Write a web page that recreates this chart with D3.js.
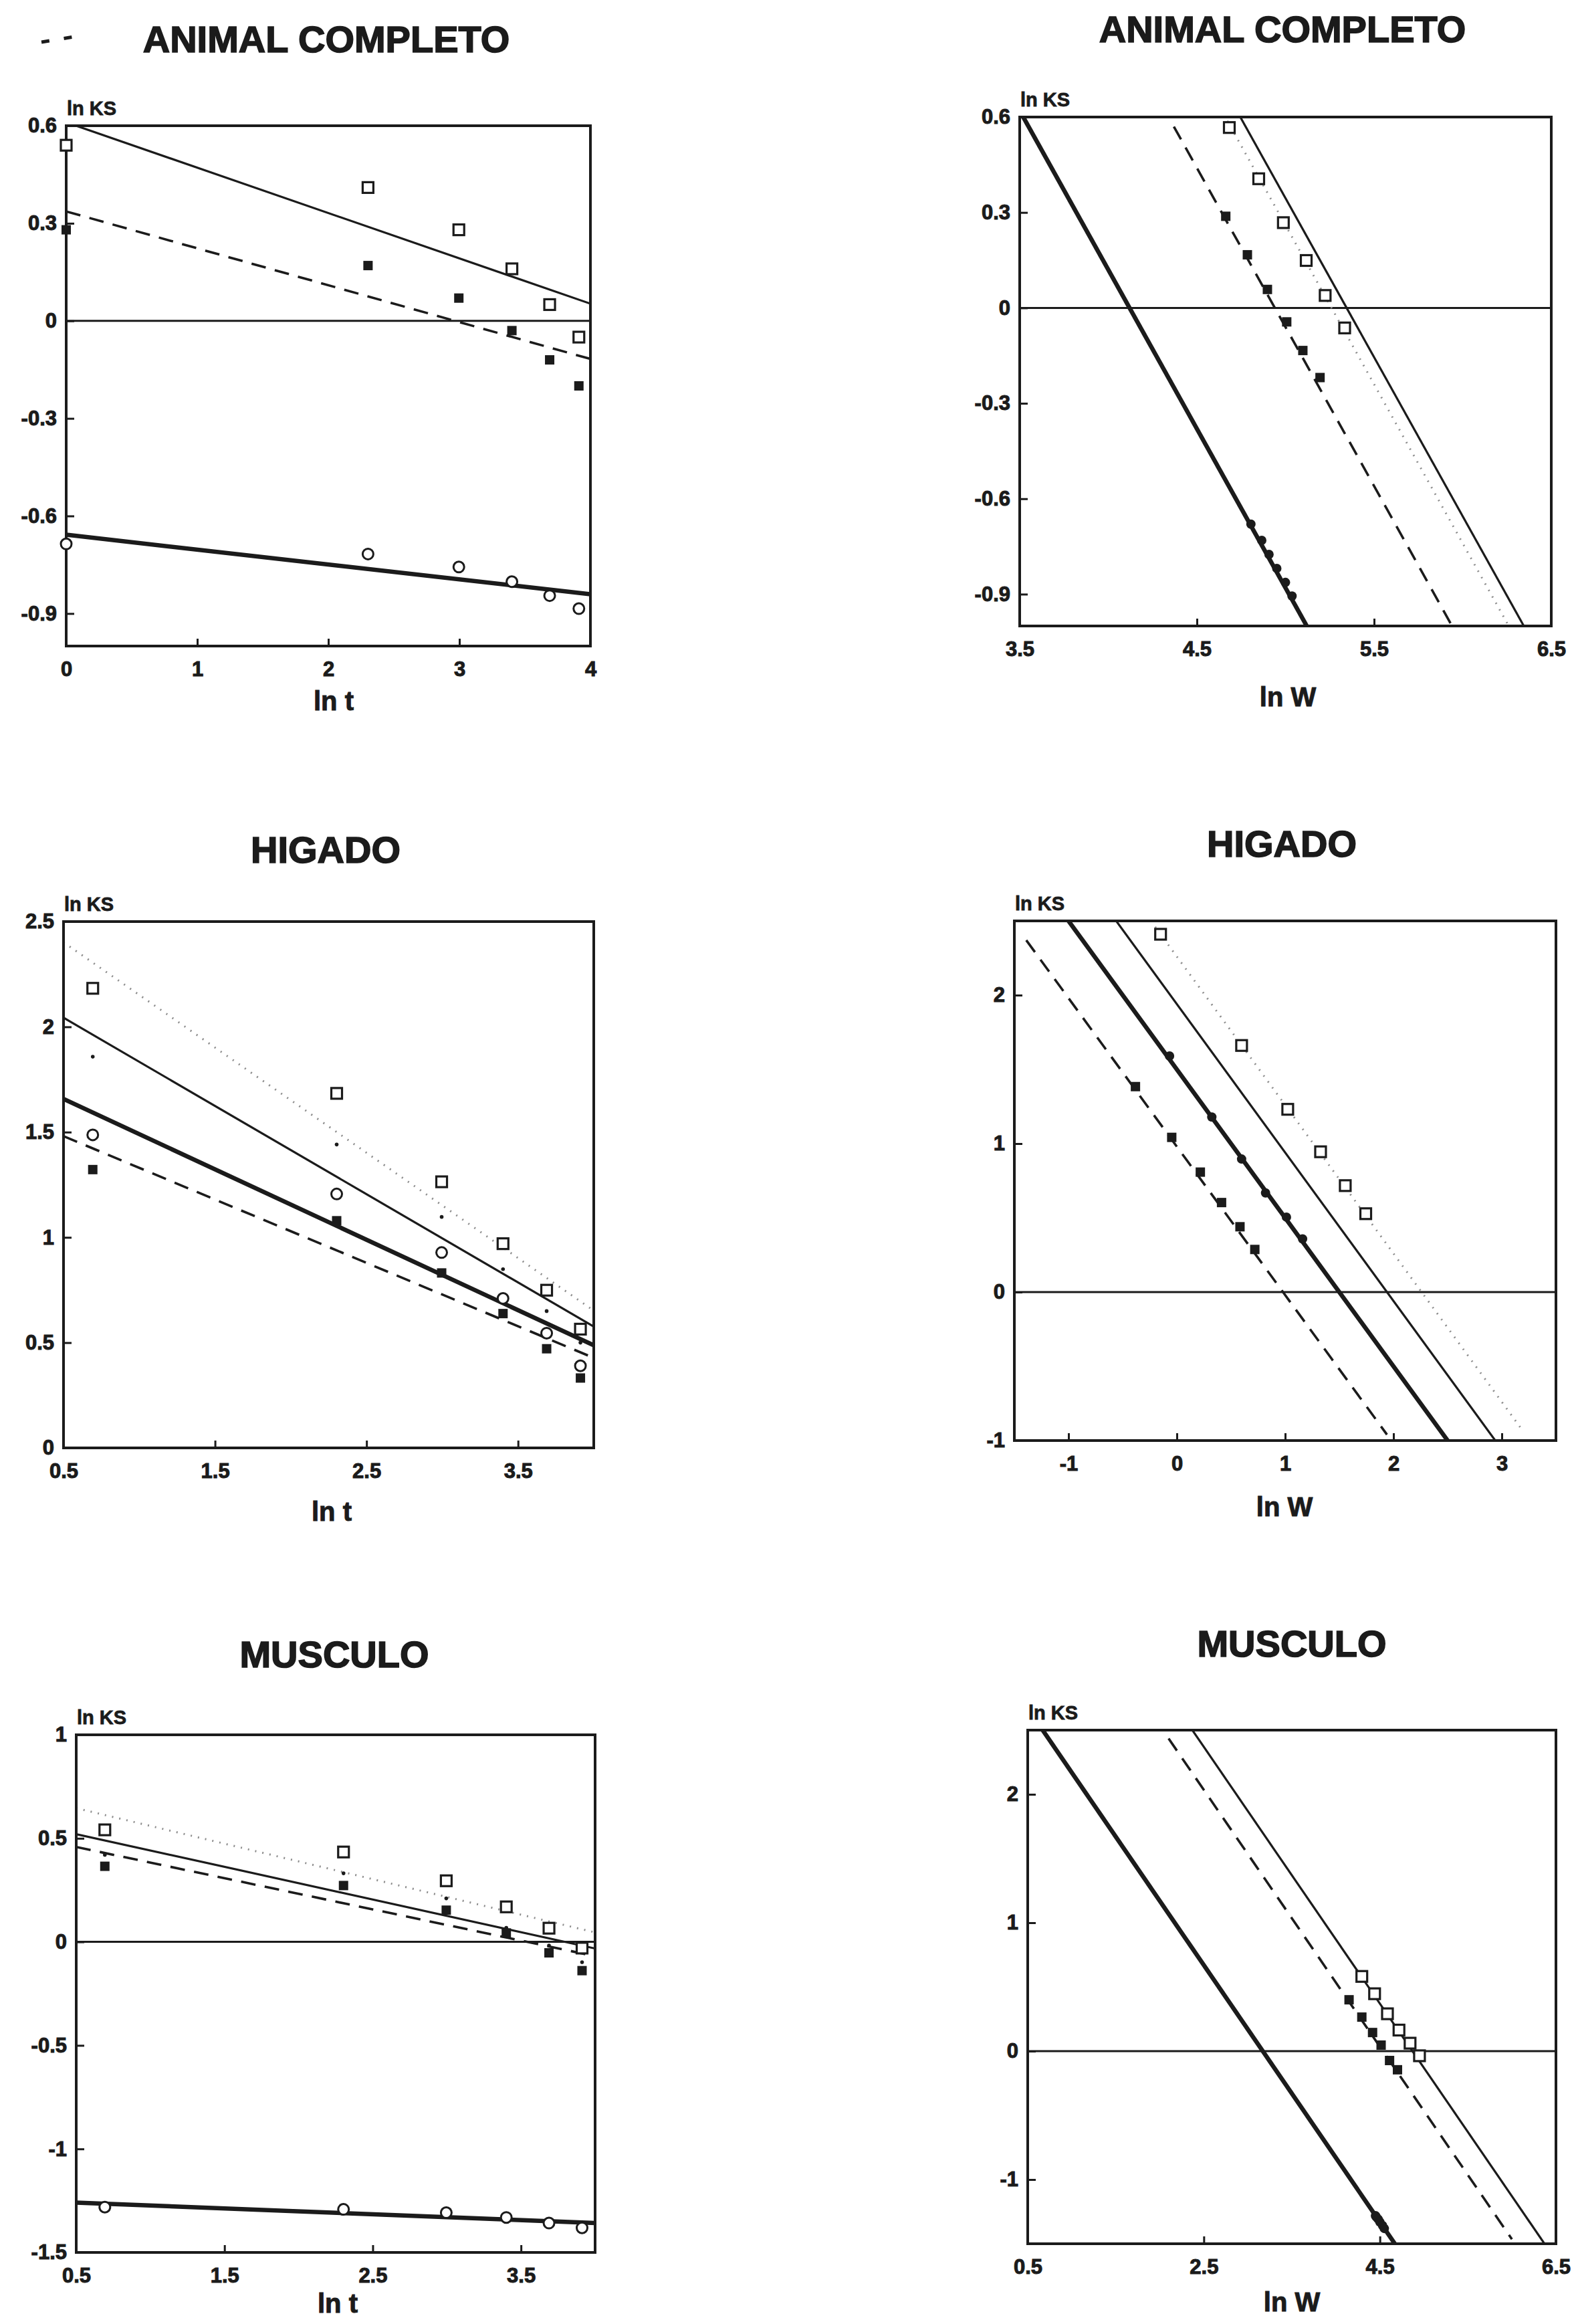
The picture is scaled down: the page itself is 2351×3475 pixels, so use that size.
<!DOCTYPE html>
<html>
<head>
<meta charset="utf-8">
<script src="https://cdn.jsdelivr.net/npm/d3@7"></script>
<style>
  html, body { margin: 0; padding: 0; background: #ffffff; }
  svg { display: block; }
  text { font-family: "Liberation Sans", Arial, Helvetica, sans-serif; font-weight: bold; fill: #1b1b1b; }
</style>
</head>
<body>
<svg id="fig" width="2351" height="3475"></svg>
<script>
// ---------- data ----------
// ln t of the sampling times (whole animal starts at t = 1, organs at t = 2)
const lnTWhole = [0, 2.303, 2.996, 3.401, 3.689, 3.912];
const lnTOrgan = [0.693, 2.303, 2.996, 3.401, 3.689, 3.912];

// ANIMAL COMPLETO: ln KS against ln t
const wholeSqT   = [0.54, 0.41, 0.28, 0.16, 0.05, -0.05];
const wholeFsqT  = [0.28, 0.17, 0.07, -0.03, -0.12, -0.20];
const wholeCircT = [-0.686, -0.717, -0.757, -0.802, -0.845, -0.885];

// ANIMAL COMPLETO: ln KS against ln W
const wholeSqLnW   = [4.683, 4.849, 4.988, 5.117, 5.224, 5.334];
const wholeSqKsW   = [0.567, 0.406, 0.268, 0.149, 0.039, -0.063];
const wholeFsqLnW  = [4.663, 4.785, 4.898, 5.007, 5.098, 5.195];
const wholeFsqKsW  = [0.288, 0.167, 0.058, -0.044, -0.134, -0.219];
const wholeCircLnW = [4.805, 4.866, 4.907, 4.951, 5.0, 5.037];
const wholeCircKsW = [-0.68, -0.731, -0.775, -0.819, -0.863, -0.906];
// lines ln KS = c - ln W : intercepts and ln W extent
const wholeIsoC    = [4.12, 4.94, 5.26, 5.345];
const wholeIsoFrom = [3.5, 4.37, 3.5, 3.5];
const wholeIsoTo   = [6.5, 5.95, 6.5, 6.5];

// HIGADO: ln KS against ln t
const liverSqT   = [2.183, 1.684, 1.264, 0.970, 0.749, 0.564];
const liverDotT  = [1.858, 1.441, 1.097, 0.849, 0.650, 0.500];
const liverCircT = [1.487, 1.206, 0.928, 0.710, 0.545, 0.390];
const liverFsqT  = [1.322, 1.079, 0.831, 0.638, 0.471, 0.332];

// HIGADO: ln KS against ln W
const liverSqLnW   = [-0.15, 0.598, 1.024, 1.327, 1.555, 1.744];
const liverSqKsW   = [2.41, 1.661, 1.231, 0.945, 0.717, 0.528];
const liverCircLnW = [-0.067, 0.323, 0.598, 0.819, 1.012, 1.161];
const liverCircKsW = [1.59, 1.179, 0.896, 0.668, 0.505, 0.358];
const liverFsqLnW  = [-0.382, -0.047, 0.217, 0.413, 0.583, 0.72];
const liverFsqKsW  = [1.384, 1.042, 0.808, 0.603, 0.44, 0.287];
const liverIsoC    = [1.50, 0.98, 2.26, 1.94];
const liverIsoFrom = [-1.5, -1.39, -0.2, -1.5];
const liverIsoTo   = [3.5, 1.94, 3.18, 3.5];

// MUSCULO: ln KS against ln t
const muscleSqT   = [0.541, 0.434, 0.295, 0.169, 0.066, -0.03];
const muscleDotT  = [0.42, 0.331, 0.21, 0.068, -0.018, -0.098];
const muscleFsqT  = [0.365, 0.272, 0.153, 0.043, -0.053, -0.139];
const muscleCircT = [-1.281, -1.292, -1.308, -1.331, -1.358, -1.381];

// MUSCULO: ln KS against ln W
const muscleSqLnW   = [4.295, 4.44, 4.586, 4.717, 4.843, 4.95];
const muscleSqKsW   = [0.582, 0.447, 0.291, 0.164, 0.062, -0.036];
const muscleFsqLnW  = [4.15, 4.295, 4.417, 4.514, 4.61, 4.70];
const muscleFsqKsW  = [0.4, 0.265, 0.145, 0.047, -0.073, -0.145];
const muscleCircLnW = [4.45, 4.46, 4.48, 4.50, 4.53, 4.55];
const muscleCircKsW = [-1.281, -1.292, -1.308, -1.331, -1.358, -1.381];
const muscleIsoC    = [3.17, 4.535, 4.87];
const muscleIsoFrom = [0.5, 2.1, 0.5];
const muscleIsoTo   = [6.5, 6.0, 6.5];

// tick values
const ticksKsWhole = [0.6, 0.3, 0, -0.3, -0.6, -0.9];
const ticksTWhole  = [0, 1, 2, 3, 4];
const ticksWWhole  = [3.5, 4.5, 5.5, 6.5];
const ticksKsLiverT = [0, 0.5, 1, 1.5, 2, 2.5];
const ticksTOrgan   = [0.5, 1.5, 2.5, 3.5];
const ticksKsLiverW = [-1, 0, 1, 2];
const ticksWLiver   = [-1, 0, 1, 2, 3];
const ticksKsMuscleT = [-1.5, -1, -0.5, 0, 0.5, 1];
const ticksKsMuscleW = [-1, 0, 1, 2];
const ticksWMuscle   = [0.5, 2.5, 4.5, 6.5];

// ---------- styles ----------
const INK = '#1b1b1b';
const STYLE = {
  thin:   { w: 3.2, dash: null,    color: INK },
  thick:  { w: 6.5, dash: null,    color: INK },
  dashed: { w: 3.6, dash: '22,14', color: INK },
  dotted: { w: 3.0, dash: '2,9',   color: '#8d8d8d' }
};

// ---------- layout ----------
const panels = [
  { title: 'ANIMAL COMPLETO', tx: 488, ty: 78, box: [99, 188, 883, 966],
    xDom: [0, 4], yDom: [-1, 0.6], xTicks: ticksTWhole, yTicks: ticksKsWhole,
    xLabel: 'ln t', lx: 499, ly: 1062, zero: true, rightSide: false,
    series: [
      { x: lnTWhole, y: wholeSqT,   mark: 'sq',   line: 'thin' },
      { x: lnTWhole, y: wholeFsqT,  mark: 'fsq',  line: 'dashed' },
      { x: lnTWhole, y: wholeCircT, mark: 'circ', line: 'thick' }
    ] },
  { title: 'ANIMAL COMPLETO', tx: 1918, ty: 63, box: [1525, 175, 2320, 936],
    xDom: [3.5, 6.5], yDom: [-1, 0.6], xTicks: ticksWWhole, yTicks: ticksKsWhole,
    xLabel: 'ln W', lx: 1926, ly: 1056, zero: true, rightSide: true,
    iso: { c: wholeIsoC, from: wholeIsoFrom, to: wholeIsoTo, styles: ['thick', 'dashed', 'dotted', 'thin'] },
    series: [
      { x: wholeSqLnW,   y: wholeSqKsW,   mark: 'sq' },
      { x: wholeFsqLnW,  y: wholeFsqKsW,  mark: 'fsq' },
      { x: wholeCircLnW, y: wholeCircKsW, mark: 'circ' }
    ] },
  { title: 'HIGADO', tx: 487, ty: 1290, box: [95, 1378, 888, 2165],
    xDom: [0.5, 4], yDom: [0, 2.5], xTicks: ticksTOrgan, yTicks: ticksKsLiverT,
    xLabel: 'ln t', lx: 496, ly: 2274, zero: false, rightSide: false,
    series: [
      { x: lnTOrgan, y: liverSqT,   mark: 'sq',   line: 'dotted' },
      { x: lnTOrgan, y: liverDotT,  mark: 'dot',  line: 'thin' },
      { x: lnTOrgan, y: liverCircT, mark: 'circ', line: 'thick' },
      { x: lnTOrgan, y: liverFsqT,  mark: 'fsq',  line: 'dashed' }
    ] },
  { title: 'HIGADO', tx: 1917, ty: 1281, box: [1517, 1377, 2327, 2154],
    xDom: [-1.5, 3.5], yDom: [-1, 2.5], xTicks: ticksWLiver, yTicks: ticksKsLiverW,
    xLabel: 'ln W', lx: 1921, ly: 2267, zero: true, rightSide: true,
    iso: { c: liverIsoC, from: liverIsoFrom, to: liverIsoTo, styles: ['thick', 'dashed', 'dotted', 'thin'] },
    series: [
      { x: liverSqLnW,   y: liverSqKsW,   mark: 'sq' },
      { x: liverFsqLnW,  y: liverFsqKsW,  mark: 'fsq' },
      { x: liverCircLnW, y: liverCircKsW, mark: 'circ' }
    ] },
  { title: 'MUSCULO', tx: 500, ty: 2493, box: [114, 2594, 890, 3368],
    xDom: [0.5, 4], yDom: [-1.5, 1], xTicks: ticksTOrgan, yTicks: ticksKsMuscleT,
    xLabel: 'ln t', lx: 505, ly: 3458, zero: true, rightSide: false,
    series: [
      { x: lnTOrgan, y: muscleSqT,   mark: 'sq',   line: 'dotted' },
      { x: lnTOrgan, y: muscleDotT,  mark: 'dot',  line: 'thin' },
      { x: lnTOrgan, y: muscleFsqT,  mark: 'fsq',  line: 'dashed' },
      { x: lnTOrgan, y: muscleCircT, mark: 'circ', line: 'thick' }
    ] },
  { title: 'MUSCULO', tx: 1932, ty: 2477, box: [1537, 2587, 2327, 3355],
    xDom: [0.5, 6.5], yDom: [-1.5, 2.5], xTicks: ticksWMuscle, yTicks: ticksKsMuscleW,
    xLabel: 'ln W', lx: 1932, ly: 3456, zero: true, rightSide: true,
    iso: { c: muscleIsoC, from: muscleIsoFrom, to: muscleIsoTo, styles: ['thick', 'dashed', 'thin'] },
    series: [
      { x: muscleSqLnW,   y: muscleSqKsW,   mark: 'sq' },
      { x: muscleFsqLnW,  y: muscleFsqKsW,  mark: 'fsq' },
      { x: muscleCircLnW, y: muscleCircKsW, mark: 'circ' }
    ] }
];

// ---------- helpers ----------
function fitLine(xs, ys) {
  const mx = d3.mean(xs), my = d3.mean(ys);
  let sxy = 0, sxx = 0;
  xs.forEach((xv, i) => { sxy += (xv - mx) * (ys[i] - my); sxx += (xv - mx) * (xv - mx); });
  const m = sxy / sxx;
  return { m, b: my - m * mx };
}

function strokeLine(g, pts, styleName, x, y) {
  const s = STYLE[styleName];
  const p = g.append('path')
    .attr('d', d3.line().x(d => x(d[0])).y(d => y(d[1]))(pts))
    .attr('fill', 'none')
    .attr('stroke', s.color)
    .attr('stroke-width', s.w)
    .attr('stroke-linecap', 'butt');
  if (s.dash) p.attr('stroke-dasharray', s.dash);
}

function drawMarker(g, type, px, py, rightSide) {
  if (type === 'sq') {
    g.append('rect').attr('x', px - 8).attr('y', py - 8).attr('width', 16).attr('height', 16)
      .attr('fill', '#ffffff').attr('stroke', INK).attr('stroke-width', 3.2);
  } else if (type === 'fsq') {
    g.append('rect').attr('x', px - 7).attr('y', py - 7).attr('width', 14).attr('height', 14)
      .attr('fill', INK);
  } else if (type === 'circ') {
    if (rightSide) {
      g.append('circle').attr('cx', px).attr('cy', py).attr('r', 7).attr('fill', INK);
    } else {
      g.append('circle').attr('cx', px).attr('cy', py).attr('r', 8)
        .attr('fill', '#ffffff').attr('stroke', INK).attr('stroke-width', 3);
    }
  } else if (type === 'dot') {
    g.append('circle').attr('cx', px).attr('cy', py).attr('r', 2.8).attr('fill', INK);
  }
}

// ---------- drawing ----------
const svg = d3.select('#fig');
svg.append('rect').attr('width', 2351).attr('height', 3475).attr('fill', '#ffffff');

// small dash fragment above the first panel
svg.append('path').attr('d', 'M62,63 L110,55').attr('stroke', INK).attr('stroke-width', 5)
  .attr('stroke-dasharray', '12,22').attr('fill', 'none');

panels.forEach((P, idx) => {
  const [L, T, R, B] = P.box;
  const x = d3.scaleLinear().domain(P.xDom).range([L, R]);
  const y = d3.scaleLinear().domain(P.yDom).range([B, T]);
  const g = svg.append('g');

  const clipId = 'clip' + idx;
  g.append('clipPath').attr('id', clipId)
    .append('rect').attr('x', L).attr('y', T).attr('width', R - L).attr('height', B - T);
  const lines = g.append('g').attr('clip-path', `url(#${clipId})`);

  if (P.zero) {
    lines.append('line').attr('x1', x(P.xDom[0])).attr('x2', x(P.xDom[1]))
      .attr('y1', y(0)).attr('y2', y(0)).attr('stroke', INK).attr('stroke-width', 3);
  }

  if (P.iso) {
    // ln KS = c - ln W
    P.iso.c.forEach((c, i) => {
      const a = P.iso.from[i], b = P.iso.to[i];
      strokeLine(lines, [[a, c - a], [b, c - b]], P.iso.styles[i], x, y);
    });
  } else {
    // least-squares line of each series against ln t
    P.series.forEach(s => {
      const f = fitLine(s.x, s.y);
      const a = P.xDom[0], b = P.xDom[1];
      strokeLine(lines, [[a, f.b + f.m * a], [b, f.b + f.m * b]], s.line, x, y);
    });
  }

  // frame
  g.append('rect').attr('x', L).attr('y', T).attr('width', R - L).attr('height', B - T)
    .attr('fill', 'none').attr('stroke', INK).attr('stroke-width', 4);

  // markers
  const mk = g.append('g');
  P.series.forEach(s => {
    s.x.forEach((xv, i) => drawMarker(mk, s.mark, x(xv), y(s.y[i]), P.rightSide));
  });

  // axes with inward ticks
  const ay = g.append('g').attr('transform', `translate(${L},0)`)
    .call(d3.axisLeft(y).tickValues(P.yTicks).tickSize(-12).tickPadding(14).tickFormat(d => String(d)));
  const ax = g.append('g').attr('transform', `translate(0,${B})`)
    .call(d3.axisBottom(x).tickValues(P.xTicks).tickSize(-11).tickPadding(23).tickFormat(d => String(d)));
  [ax, ay].forEach(a => {
    a.select('.domain').remove();
    a.selectAll('line').attr('stroke', INK).attr('stroke-width', 3);
    a.selectAll('text').attr('fill', INK).attr('stroke', INK).attr('stroke-width', 1)
      .style('font-size', '31px').style('font-weight', 'bold');
  });

  // y-axis name above the frame
  g.append('text').attr('x', L + 1).attr('y', T - 16).attr('stroke', INK).attr('stroke-width', 0.8)
    .style('font-size', '29px').text('ln KS');

  // x-axis name
  g.append('text').attr('x', P.lx).attr('y', P.ly).attr('text-anchor', 'middle')
    .attr('stroke', INK).attr('stroke-width', 1)
    .style('font-size', '40px').text(P.xLabel);

  // panel title
  g.append('text').attr('x', P.tx).attr('y', P.ty).attr('text-anchor', 'middle')
    .attr('stroke', INK).attr('stroke-width', 1.6)
    .style('font-size', '56px').text(P.title);
});
</script>
</body>
</html>
